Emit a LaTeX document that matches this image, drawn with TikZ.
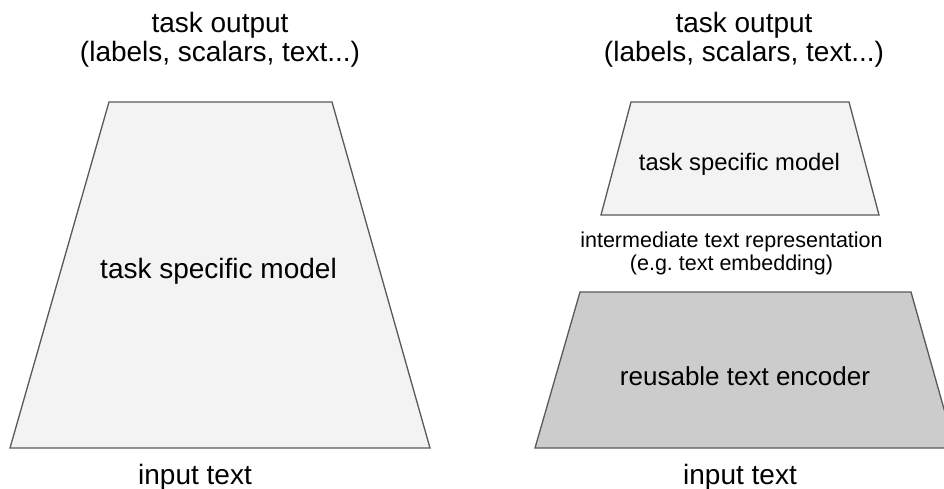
\documentclass[tikz,border=0pt]{standalone}
\usepackage{fontspec}
\setmainfont{Liberation Sans}
\frenchspacing
\definecolor{lightfill}{HTML}{F3F3F3}
\definecolor{darkfill}{HTML}{CCCCCC}
\definecolor{edgecol}{HTML}{595959}
\begin{document}
\begin{tikzpicture}[x=1pt,y=-1pt,
  trap/.style={draw=edgecol,line width=1.3pt,line join=miter},
  bigtxt/.style={font=\fontsize{28}{29}\selectfont,inner sep=0pt,align=center},
  midtxt/.style={font=\fontsize{26}{28}\selectfont,inner sep=0pt,align=center},
  smalltxt/.style={font=\fontsize{21.5}{23}\selectfont,inner sep=0pt,align=center}]
\useasboundingbox (0,0) rectangle (944,489);
\fill[white] (0,0) rectangle (944,489);
% left trapezoid
\path[trap,fill=lightfill] (109,102) -- (332,102) -- (430,448) -- (10,448) -- cycle;
% right small trapezoid
\path[trap,fill=lightfill] (631,102) -- (849,102) -- (879,215) -- (601,215) -- cycle;
% right big trapezoid
\path[trap,fill=darkfill] (580,292) -- (911,292) -- (955,448) -- (535,448) -- cycle;
% texts
\node[bigtxt] (outL) at (220,40) {task output\\(labels, scalars, text...)};
\node[bigtxt] (outR) at (744,40) {task output\\(labels, scalars, text...)};
\node[bigtxt,anchor=base] (modelL) at (218.5,278) {task specific model};
\node[font=\fontsize{23.8}{26}\selectfont,inner sep=0pt,anchor=base] (modelR) at (739.5,171) {task specific model};
\node[smalltxt] (inter) at (731.5,253) {intermediate text representation\\(e.g. text embedding)};
\node[midtxt,anchor=base] (enc) at (745,385) {reusable text encoder};
\node[bigtxt,anchor=base] (inL) at (195,484) {input text};
\node[bigtxt,anchor=base] (inR) at (740,484) {input text};
\end{tikzpicture}
\end{document}
